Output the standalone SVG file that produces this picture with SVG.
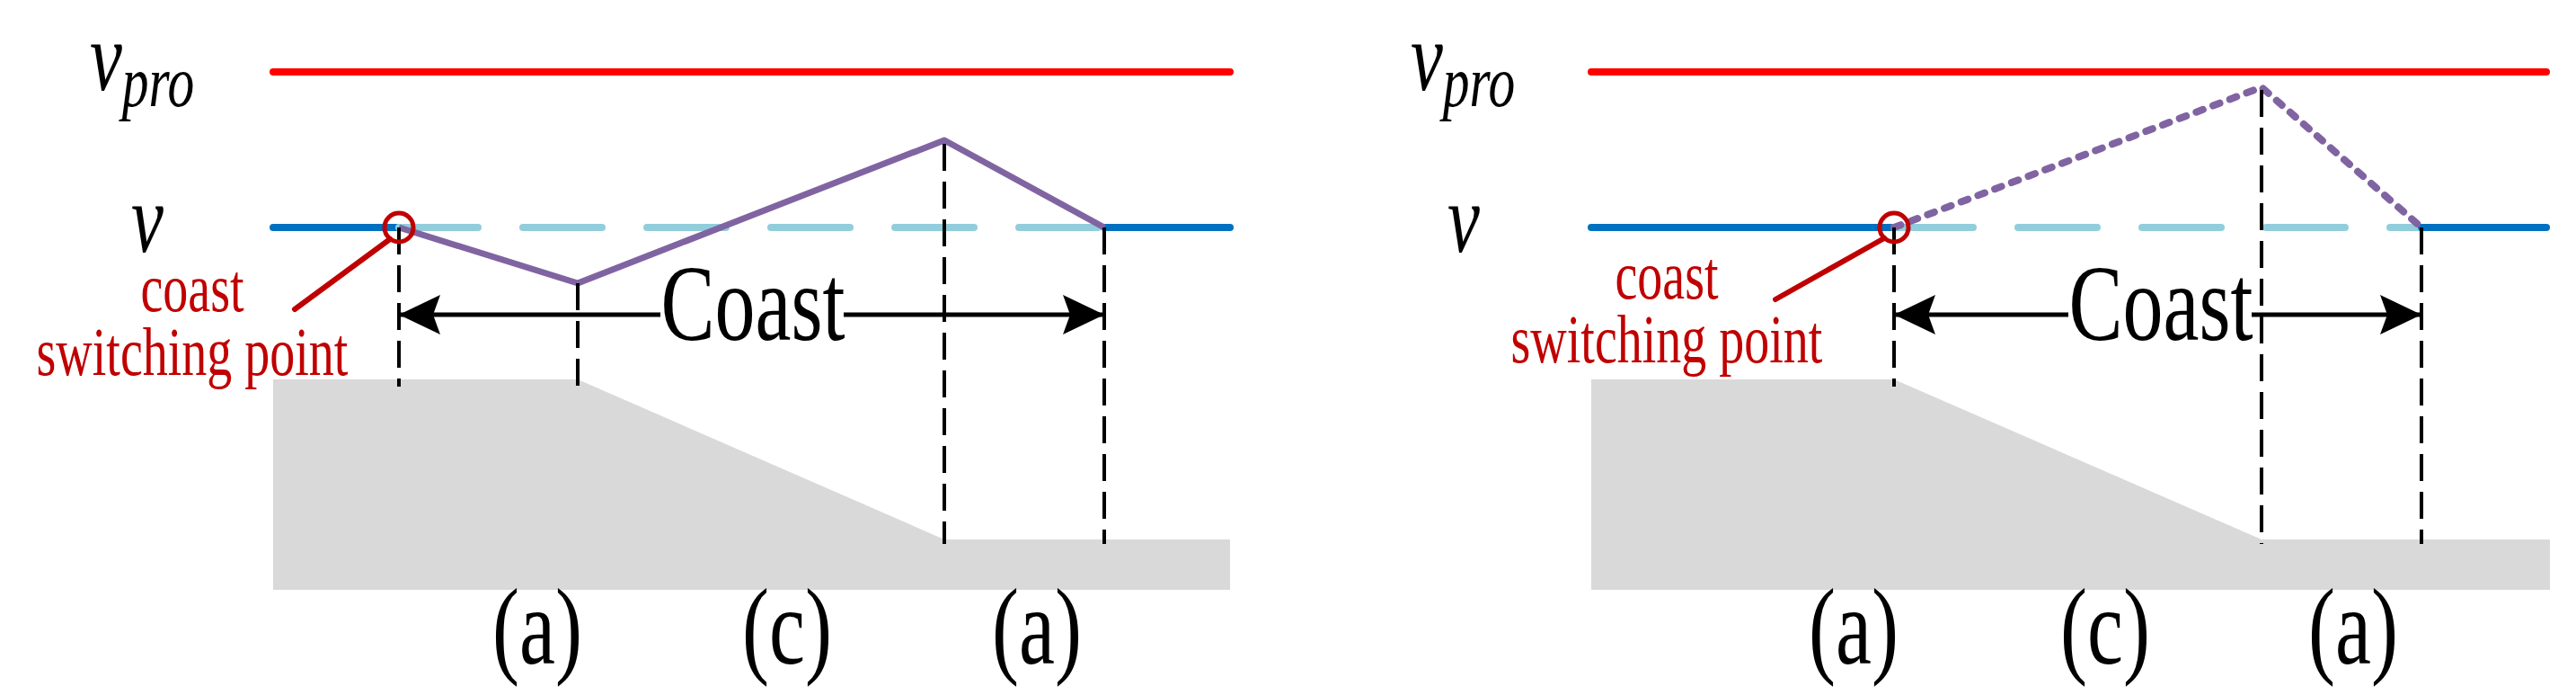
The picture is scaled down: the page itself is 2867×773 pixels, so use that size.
<svg xmlns="http://www.w3.org/2000/svg" width="2867" height="773" viewBox="0 0 2867 773">
<style>
.pro{stroke:#FF0000;stroke-width:8;stroke-linecap:round;fill:none}
.vb{stroke:#0070C0;stroke-width:8;stroke-linecap:round;fill:none}
.vl{stroke:#92CDDC;stroke-width:8;stroke-dasharray:88 50;stroke-linecap:round;fill:none}
.pur{stroke:#8064A2;stroke-width:7;fill:none;stroke-linejoin:round}
.dot{stroke:#8064A2;stroke-width:8;fill:none;stroke-dasharray:8 12;stroke-linecap:round}
.dash{stroke:#000;stroke-width:4;stroke-dasharray:30 12;fill:none}
.arr{stroke:#000;stroke-width:5;fill:none;marker-start:url(#ah);marker-end:url(#ah)}
.gnd{fill:#D9D9D9}
.sw{stroke:#C00000;stroke-width:6;fill:none;stroke-linecap:round}
.big{font-family:"Liberation Serif","Times New Roman",serif;font-size:90px;fill:#000;text-anchor:middle}
.lab{font-family:"Liberation Serif","Times New Roman",serif;font-size:56px;fill:#C00000;text-anchor:middle}
.it{font-family:"Liberation Serif","DejaVu Serif",serif;font-style:italic;fill:#000}
</style>
<defs>
<marker id="ah" viewBox="0 0 10 10" refX="10" refY="5" markerWidth="10" markerHeight="10" markerUnits="userSpaceOnUse" orient="auto-start-reverse" overflow="visible">
<path d="M10,5 L-36,-17 L-28,5 L-36,27 Z" fill="#000"/>
</marker>
</defs>
<g id="left">
<polygon class="gnd" points="304,422 643,422 1051,600 1369,600 1369,656 304,656"/>
<line class="pro" x1="304" y1="80" x2="1369" y2="80"/>
<line class="vb" x1="304" y1="253" x2="444" y2="253"/>
<line class="vl" x1="444" y1="253" x2="1229" y2="253"/>
<line class="vb" x1="1229" y1="253" x2="1369" y2="253"/>
<polyline class="pur" points="444,253 643,315 1051,156 1229,253"/>
<line class="dash" x1="444" y1="253" x2="444" y2="430"/>
<line class="dash" x1="643" y1="315" x2="643" y2="430"/>
<line class="dash" x1="1051" y1="160" x2="1051" y2="605"/>
<line class="dash" x1="1229" y1="253" x2="1229" y2="605"/>
<line class="arr" x1="444" y1="350" x2="1229" y2="350"/>
<rect x="735" y="295" width="204" height="95" fill="#fff"/>
<text class="big" transform="translate(838,378) scale(1,1.35)">Coast</text>
<circle cx="444" cy="253" r="16" fill="none" stroke="#C00000" stroke-width="5"/>
<line class="sw" x1="434" y1="266" x2="328" y2="344"/>
<text class="lab" transform="translate(214,346) scale(1,1.35)">coast</text>
<text class="lab" transform="translate(214,417) scale(1,1.35)">switching point</text>
<text class="it" transform="translate(100,100) scale(0.85,1.15)" font-size="95">v<tspan font-size="70" dy="16">pro</tspan></text>
<text class="it" transform="translate(146,280) scale(0.85,1.15)" font-size="95">v</text>
<text class="big" transform="translate(598,738) scale(1,1.35)">(a)</text>
<text class="big" transform="translate(876,738) scale(1,1.35)">(c)</text>
<text class="big" transform="translate(1154,738) scale(1,1.35)">(a)</text>
</g>
<g id="right">
<polygon class="gnd" points="1771,422 2108,422 2517,600 2838,600 2838,656 1771,656"/>
<line class="pro" x1="1771" y1="80" x2="2834" y2="80"/>
<line class="vb" x1="1771" y1="253" x2="2108" y2="253"/>
<line class="vl" x1="2108" y1="253" x2="2695" y2="253"/>
<line class="vb" x1="2695" y1="253" x2="2834" y2="253"/>
<polyline class="dot" points="2108,253 2517,97 2695,253"/>
<line class="dash" x1="2108" y1="253" x2="2108" y2="430"/>
<line class="dash" x1="2517" y1="100" x2="2517" y2="605"/>
<line class="dash" x1="2695" y1="253" x2="2695" y2="605"/>
<line class="arr" x1="2108" y1="350" x2="2695" y2="350"/>
<rect x="2302" y="295" width="204" height="95" fill="#fff"/>
<text class="big" transform="translate(2405,378) scale(1,1.35)">Coast</text>
<circle cx="2108" cy="253" r="16" fill="none" stroke="#C00000" stroke-width="5"/>
<line class="sw" x1="2097" y1="265" x2="1976" y2="333"/>
<text class="lab" transform="translate(1855,332) scale(1,1.35)">coast</text>
<text class="lab" transform="translate(1855,403) scale(1,1.35)">switching point</text>
<text class="it" transform="translate(1570,100) scale(0.85,1.15)" font-size="95">v<tspan font-size="70" dy="16">pro</tspan></text>
<text class="it" transform="translate(1611,280) scale(0.85,1.15)" font-size="95">v</text>
<text class="big" transform="translate(2063,738) scale(1,1.35)">(a)</text>
<text class="big" transform="translate(2343,738) scale(1,1.35)">(c)</text>
<text class="big" transform="translate(2619,738) scale(1,1.35)">(a)</text>
</g>
</svg>
